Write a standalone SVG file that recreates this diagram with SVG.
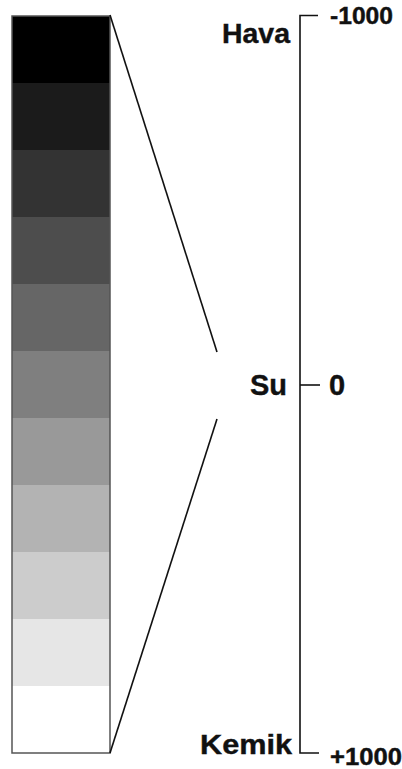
<svg xmlns="http://www.w3.org/2000/svg" width="402" height="769" viewBox="0 0 402 769">
  <style>
    .lbl { font-family: "Liberation Sans", Arial, sans-serif; font-weight: bold; fill: #111; stroke: #111; stroke-width: 0.4; }
    .end { text-anchor: end; }
    .ln { stroke: #111; stroke-width: 1.6; fill: none; }
  </style>
  <rect x="0" y="0" width="402" height="769" fill="#fff"/>

  <!-- Grey scale column: 11 bands from black to white -->
  <g id="grayscale">
    <rect x="12" y="16" width="98" height="67" fill="#000"/>
    <rect x="12" y="83" width="98" height="67" fill="#1b1b1b"/>
    <rect x="12" y="150" width="98" height="67" fill="#333"/>
    <rect x="12" y="217" width="98" height="67" fill="#4d4d4d"/>
    <rect x="12" y="284" width="98" height="67" fill="#666"/>
    <rect x="12" y="351" width="98" height="67" fill="#7f7f7f"/>
    <rect x="12" y="418" width="98" height="67" fill="#999"/>
    <rect x="12" y="485" width="98" height="67" fill="#b3b3b3"/>
    <rect x="12" y="552" width="98" height="67" fill="#ccc"/>
    <rect x="12" y="619" width="98" height="67" fill="#e6e6e6"/>
    <rect x="12" y="686" width="98" height="67" fill="#fff"/>
    <rect x="12" y="16" width="98" height="737" fill="none" stroke="#555" stroke-width="1.5"/>
  </g>

  <!-- Connectors from the column to the scale -->
  <g id="connectors">
    <line class="ln" x1="110" y1="15" x2="217" y2="352"/>
    <line class="ln" x1="110" y1="753" x2="217" y2="419"/>
  </g>

  <!-- Scale axis with ticks -->
  <g id="axis">
    <path class="ln" d="M318 15.5 H300 V753 H319"/>
    <line class="ln" x1="300" y1="385" x2="320" y2="385"/>
  </g>

  <g id="hava">
    <text class="lbl end" x="290" y="43" font-size="27" textLength="68" lengthAdjust="spacingAndGlyphs">Hava</text>
    <text class="lbl" x="330" y="24" font-size="23" textLength="63" lengthAdjust="spacingAndGlyphs">-1000</text>
  </g>
  <g id="su">
    <text class="lbl end" x="287" y="395" font-size="30" textLength="37" lengthAdjust="spacingAndGlyphs">Su</text>
    <text class="lbl" x="329" y="395" font-size="29">0</text>
  </g>
  <g id="kemik">
    <text class="lbl end" x="292" y="754" font-size="27" textLength="92" lengthAdjust="spacingAndGlyphs">Kemik</text>
    <text class="lbl" x="330" y="765" font-size="23" textLength="72" lengthAdjust="spacingAndGlyphs">+1000</text>
  </g>
</svg>
